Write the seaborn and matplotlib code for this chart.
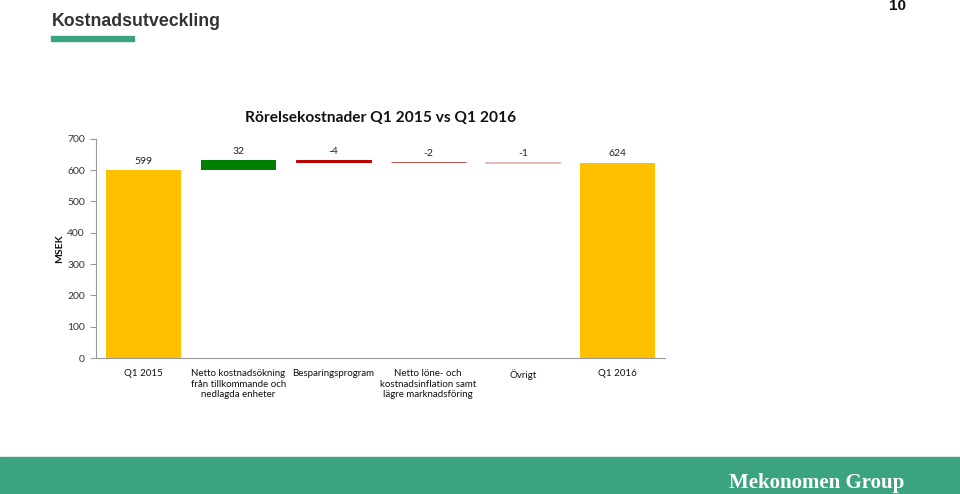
import matplotlib
matplotlib.use("Agg")
import matplotlib.pyplot as plt
import seaborn as sns
import numpy as np

categories = ["Q1 2015",
              "Netto kostnadsökning\nfrån tillkommande och\nnedlagda enheter",
              "Besparingsprogram",
              "Netto löne- och\nkostnadsinflation samt\nlägre marknadsföring",
              "Övrigt",
              "Q1 2016"]
values = [599, 32, -4, -2, -1, 624]
labels = ["599", "32", "-4", "-2", "-1", "624"]
bar_colors = ["#FFC000", "#008000", "#C00000", "#C0504D", "#E6B9B8", "#FFC000"]
yticks = [0, 100, 200, 300, 400, 500, 600, 700]

sns.set_theme(style="white")
plt.rcParams["font.family"] = ["Lato", "DejaVu Sans"]

fig = plt.figure(figsize=(9.6, 4.94), dpi=100)
ax = fig.add_axes([0.1, 0.275, 0.593, 0.444])

# Waterfall: totals + floating deltas
bottoms = []
heights = []
cum = 0
for i, v in enumerate(values):
    if i == 0 or i == len(values) - 1:
        bottoms.append(0)
        heights.append(v)
        cum = v
    else:
        if v >= 0:
            bottoms.append(cum)
            heights.append(v)
        else:
            bottoms.append(cum + v)
            heights.append(-v)
        cum += v

totals = [h if i in (0, len(values) - 1) else 0 for i, h in enumerate(heights)]
sns.barplot(x=categories, y=totals, ax=ax, palette=bar_colors, hue=categories,
            legend=False, width=0.79, saturation=1, linewidth=0)
xpos = np.arange(len(categories))
for i in range(1, len(values) - 1):
    lw = 0 if heights[i] > 10 else 0.7
    ax.bar(xpos[i], heights[i], bottom=bottoms[i], width=0.79,
           color=bar_colors[i], edgecolor=bar_colors[i], linewidth=lw)

for i in range(len(values)):
    top = bottoms[i] + heights[i]
    ax.annotate(labels[i], (xpos[i], top), xytext=(0, 3),
                textcoords="offset points", ha="center", va="bottom",
                fontsize=7.5, color="#222222")

ax.set_ylim(0, 700)
ax.set_xlim(-0.5, len(categories) - 0.5)
ax.set_yticks(yticks)
ax.set_yticklabels([str(t) for t in yticks], fontsize=7.5, color="#333333")
ax.set_xticks(xpos)
ax.set_xticklabels(categories, fontsize=7, color="#111111", va="top", linespacing=1.2)
ax.tick_params(axis="y", left=True, length=4, width=0.8, color="#999999", pad=4)
ax.tick_params(axis="x", bottom=False, pad=2)
for s in ["top", "right"]:
    ax.spines[s].set_visible(False)
for s in ["left", "bottom"]:
    ax.spines[s].set_color("#999999")
    ax.spines[s].set_linewidth(0.8)
ax.set_ylabel("MSEK", fontsize=7.5, fontweight="bold", color="#111111")
ax.yaxis.set_label_coords((64 - 96) / 569, 0.5)
ax.grid(False)

ax.set_title("Rörelsekostnader Q1 2015 vs Q1 2016", fontsize=11.2,
             fontweight="bold", color="#111111", pad=12)

# Page header
fig.text(52 / 960, 1 - 21 / 494, "Kostnadsutveckling", fontsize=12.8,
         fontweight="bold", color="#333333", va="center", ha="left",
         family=["Liberation Sans", "DejaVu Sans"])
fig.patches.append(plt.Rectangle((51 / 960, 1 - 41 / 494), 83 / 960, 5 / 494,
                                 transform=fig.transFigure, color="#3BA37F"))
fig.text(897 / 960, 1 - 6 / 494, "10", fontsize=11, fontweight="bold",
         color="#111111", ha="center", va="center",
         family=["Liberation Sans", "DejaVu Sans"])

# Footer band
fig.patches.append(plt.Rectangle((0, 0), 1, 37 / 494, transform=fig.transFigure,
                                 color="#3BA37F"))
fig.text(817 / 960, 11 / 494, "Mekonomen Group", fontsize=15, fontweight="bold",
         color="white", ha="center", va="center",
         family=["Liberation Serif", "DejaVu Serif"])

fig.savefig("out.png", dpi=100)
